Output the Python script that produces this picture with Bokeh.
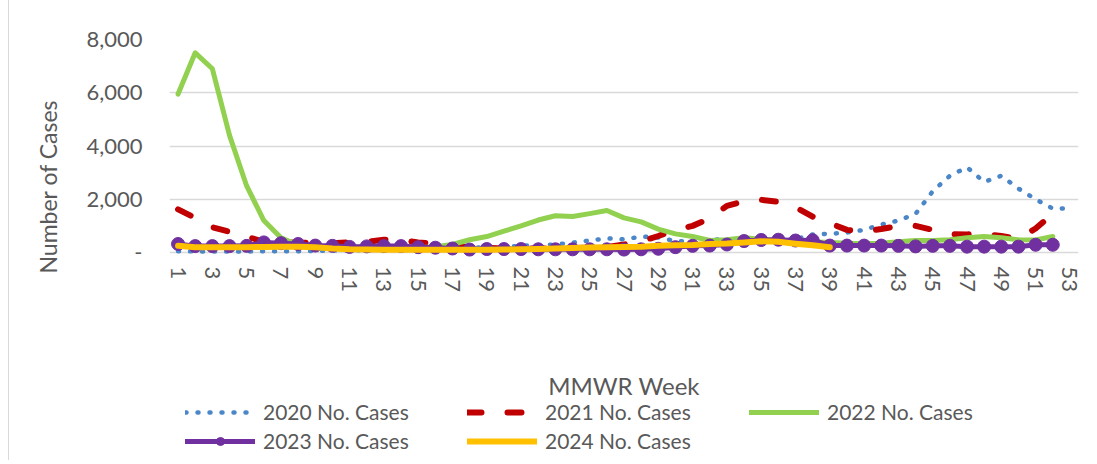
import math
from bokeh.plotting import figure
from bokeh.models import Range1d, FixedTicker, Legend, LegendItem, Title, Label
from bokeh.core.properties import value
from bokeh.embed import file_html
from bokeh.resources import INLINE

# ---- data ----
weeks_2020 = list(range(1, 54))
cases_2020 = [50, 40, 40, 40, 40, 50, 50, 50, 60, 70,
              80, 80, 90, 90, 100, 120, 150, 170, 200, 220,
              250, 280, 300, 370, 450, 530, 490, 600, 560, 430,
              400, 500, 480, 450, 420, 420, 500, 680, 700, 750,
              850, 1050, 1200, 1450, 2300, 2880, 3200, 2650, 2880, 2400,
              2000, 1650, 1660]

weeks_2021 = list(range(1, 53))
cases_2021 = [1620, 1300, 950, 780, 600, 400, 380, 370, 360, 350,
              380, 400, 480, 460, 380, 320, 250, 200, 170, 150,
              150, 150, 160, 170, 180, 200, 300, 420, 620, 850,
              1000, 1280, 1750, 1920, 1980, 1900, 1700, 1350, 1100, 850,
              790, 880, 1000, 1000, 850, 690, 680, 690, 620, 520,
              900, 1450]

weeks_2022 = list(range(1, 53))
cases_2022 = [5950, 7500, 6900, 4400, 2500, 1200, 550, 280, 230, 200,
              200, 200, 190, 180, 180, 220, 300, 480, 600, 800,
              1000, 1220, 1380, 1350, 1460, 1580, 1300, 1150, 880, 700,
              600, 450, 480, 550, 500, 450, 420, 400, 380, 350,
              330, 350, 400, 450, 450, 480, 550, 600, 550, 480,
              470, 600]

weeks_2023 = list(range(1, 53))
cases_2023 = [320, 240, 240, 240, 250, 380, 350, 320, 260, 250,
              210, 230, 240, 240, 200, 180, 150, 110, 130, 130,
              130, 120, 120, 120, 120, 120, 110, 120, 140, 200,
              250, 260, 300, 430, 470, 480, 450, 460, 260, 260,
              260, 260, 250, 230, 250, 250, 220, 220, 220, 220,
              290, 290]

weeks_2024 = list(range(1, 40))
cases_2024 = [250, 200, 200, 200, 200, 210, 220, 220, 200, 150,
              120, 110, 100, 100, 100, 100, 100, 100, 100, 110,
              120, 130, 150, 170, 190, 200, 210, 220, 250, 270,
              280, 320, 340, 380, 420, 400, 330, 270, 200]

series_labels = ["2020 No. Cases", "2021 No. Cases", "2022 No. Cases",
                 "2023 No. Cases", "2024 No. Cases"]
x_ticks = list(range(1, 54, 2))
x_tick_labels = [str(t) for t in x_ticks]
y_ticks = [0, 2000, 4000, 6000, 8000]
y_tick_labels = ["-", "2,000", "4,000", "6,000", "8,000"]
x_title = "MMWR Week"
y_title = "Number of Cases"

FONT = "Lato"
TXT = "#595959"

# geometry: value axis 0..8000 spans 213 px; the frame continues 208 px
# below the zero line to hold the week labels, axis title and legend
VAL_PX = 213
BELOW_PX = 208
Y_MAX = 8000
PX = Y_MAX / VAL_PX           # data units per pixel

p = figure(frame_width=909, frame_height=VAL_PX + BELOW_PX,
           output_backend="svg", toolbar_location=None,
           x_axis_location=None,
           x_range=Range1d(0.5, 53.5),
           y_range=Range1d(-BELOW_PX * PX, Y_MAX),
           min_border_left=158, min_border_right=21,
           min_border_top=39, min_border_bottom=0)
p.outline_line_color = None
p.background_fill_color = "white"
p.border_fill_color = "white"
p.styles = {"margin-left": "8px", "border-left": "1px solid #D9D9D9"}

p.xgrid.grid_line_color = None
p.ygrid.grid_line_color = "#D9D9D9"
p.ygrid.grid_line_width = 1.3
p.ygrid.ticker = FixedTicker(ticks=y_ticks)

p.yaxis.ticker = FixedTicker(ticks=y_ticks)
p.yaxis.major_label_overrides = dict(zip(y_ticks, y_tick_labels))
p.yaxis.axis_line_color = None
p.yaxis.major_tick_line_color = None
p.yaxis.minor_tick_line_color = None
p.yaxis.major_tick_out = 0
p.yaxis.major_label_standoff = 27
p.yaxis.major_label_text_font = FONT
p.yaxis.major_label_text_font_size = "22px"
p.yaxis.major_label_text_color = TXT

# week labels under the zero line (category axis, rotated)
p.text(x=x_ticks, y=[-14 * PX] * len(x_ticks), text=x_tick_labels,
       angle=-math.pi / 2, text_align="left", text_baseline="middle",
       text_font=value(FONT), text_font_size="22px", text_color=TXT)

p.add_layout(Label(x=27, y=-133 * PX, text=x_title,
                   text_align="center", text_baseline="middle",
                   text_font=FONT, text_font_size="24px", text_color=TXT))

r20 = p.line(weeks_2020, cases_2020, line_color="#4A86C8", line_width=4.5,
             line_dash="1 11", line_cap="round", line_join="round")
r21 = p.line(weeks_2021, cases_2021, line_color="#C00000", line_width=6,
             line_dash="14 26", line_cap="round", line_join="round")
r22 = p.line(weeks_2022, cases_2022, line_color="#92D050", line_width=5,
             line_cap="round", line_join="round")
r23l = p.line(weeks_2023, cases_2023, line_color="#7030A0", line_width=5,
              line_cap="round", line_join="round")
r23m = p.scatter(weeks_2023, cases_2023, size=13, marker="circle",
                 fill_color="#7030A0", line_color="#7030A0")
r24 = p.line(weeks_2024, cases_2024, line_color="#FFC000", line_width=6,
             line_cap="round", line_join="round")

ytitle = Title(text=y_title, align="left", offset=BELOW_PX - 21, standoff=44,
               text_font=FONT, text_font_size="23px",
               text_font_style="normal", text_color=TXT)
p.add_layout(ytitle, "left")

legend = Legend(items=[
    LegendItem(label=series_labels[0], renderers=[r20]),
    LegendItem(label=series_labels[1], renderers=[r21]),
    LegendItem(label=series_labels[2], renderers=[r22]),
    LegendItem(label=series_labels[3], renderers=[r23l, r23m]),
    LegendItem(label=series_labels[4], renderers=[r24]),
], location=(16, 7), orientation="horizontal", ncols=3)
legend.glyph_width = 70
legend.glyph_height = 20
legend.label_standoff = 8
legend.label_width = 200
legend.spacing = 4
legend.padding = 0
legend.margin = 0
legend.border_line_color = None
legend.background_fill_alpha = 0
legend.label_text_font = FONT
legend.label_text_font_size = "21px"
legend.label_text_color = TXT
p.add_layout(legend, "center")

open("out.html", "w").write(file_html(p, INLINE))
